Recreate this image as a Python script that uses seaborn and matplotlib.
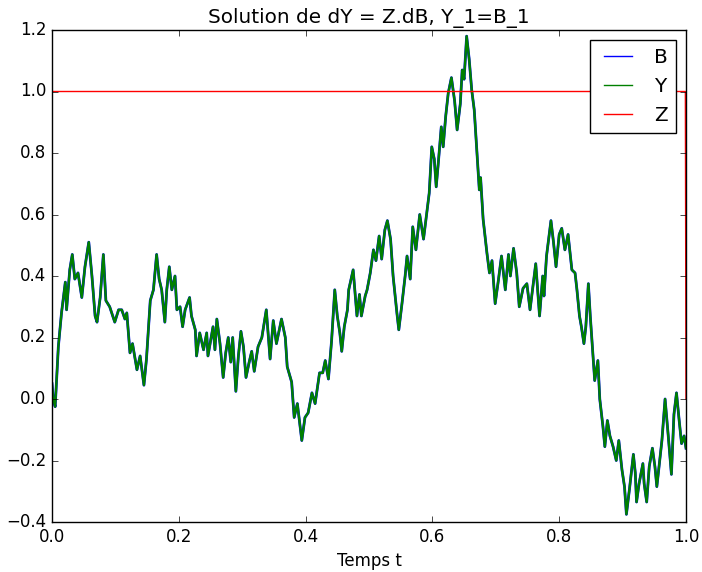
import matplotlib
matplotlib.use("Agg")
import matplotlib.pyplot as plt
import seaborn as sns

# temps t
t_values = [
    0.0, 0.002, 0.005, 0.010, 0.015, 0.021, 0.023, 0.028, 0.032, 0.036,
    0.041, 0.047, 0.052, 0.058, 0.063, 0.068, 0.071, 0.076, 0.081, 0.085,
    0.091, 0.099, 0.105, 0.110, 0.115, 0.118, 0.123, 0.127, 0.134, 0.139,
    0.145, 0.149, 0.155, 0.160, 0.165, 0.169, 0.173, 0.178, 0.181, 0.185,
    0.189, 0.194, 0.197, 0.202, 0.206, 0.210, 0.217, 0.220, 0.226, 0.228,
    0.233, 0.239, 0.244, 0.246, 0.254, 0.257, 0.260, 0.265, 0.270, 0.274,
    0.278, 0.282, 0.285, 0.290, 0.294, 0.298, 0.302, 0.306, 0.311, 0.315,
    0.319, 0.325, 0.331, 0.338, 0.344, 0.349, 0.354, 0.362, 0.368, 0.371,
    0.378, 0.382, 0.387, 0.394, 0.399, 0.404, 0.410, 0.415, 0.422, 0.427,
    0.431, 0.436, 0.441, 0.446, 0.450, 0.454, 0.457, 0.461, 0.466, 0.468,
    0.475, 0.481, 0.485, 0.488, 0.494, 0.497, 0.502, 0.507, 0.511, 0.516,
    0.520, 0.525, 0.529, 0.534, 0.538, 0.544, 0.547, 0.552, 0.557, 0.560,
    0.565, 0.569, 0.574, 0.580, 0.586, 0.591, 0.595, 0.599, 0.603, 0.606,
    0.609, 0.614, 0.617, 0.621, 0.625, 0.630, 0.635, 0.639, 0.644, 0.647,
    0.650, 0.654, 0.658, 0.662, 0.666, 0.670, 0.674, 0.676, 0.680, 0.686,
    0.690, 0.694, 0.699, 0.704, 0.709, 0.715, 0.720, 0.723, 0.728, 0.733,
    0.737, 0.743, 0.749, 0.754, 0.759, 0.763, 0.769, 0.774, 0.776, 0.780,
    0.787, 0.791, 0.795, 0.800, 0.804, 0.809, 0.814, 0.820, 0.825, 0.828,
    0.832, 0.835, 0.839, 0.842, 0.846, 0.849, 0.853, 0.856, 0.861, 0.864,
    0.869, 0.872, 0.876, 0.880, 0.885, 0.890, 0.894, 0.899, 0.903, 0.906,
    0.911, 0.917, 0.920, 0.922, 0.926, 0.932, 0.934, 0.938, 0.942, 0.947,
    0.951, 0.954, 0.958, 0.962, 0.967, 0.972, 0.977, 0.981, 0.985, 0.989,
    0.993, 0.997, 1.0,
]

# mouvement brownien B
b_values = [
    0.05, 0.0, -0.025, 0.17, 0.28, 0.38, 0.29, 0.42, 0.47, 0.39,
    0.41, 0.33, 0.43, 0.51, 0.40, 0.27, 0.25, 0.33, 0.47, 0.32,
    0.30, 0.25, 0.29, 0.29, 0.26, 0.28, 0.15, 0.18, 0.095, 0.14,
    0.045, 0.13, 0.32, 0.355, 0.47, 0.39, 0.355, 0.25, 0.355, 0.43,
    0.355, 0.40, 0.29, 0.30, 0.235, 0.29, 0.33, 0.27, 0.225, 0.14,
    0.215, 0.16, 0.215, 0.14, 0.235, 0.16, 0.26, 0.18, 0.07, 0.15,
    0.20, 0.12, 0.20, 0.025, 0.14, 0.22, 0.17, 0.07, 0.12, 0.155,
    0.09, 0.17, 0.20, 0.29, 0.13, 0.255, 0.18, 0.26, 0.20, 0.105,
    0.055, -0.06, -0.015, -0.135, -0.06, -0.045, 0.02, -0.015, 0.085, 0.085,
    0.125, 0.065, 0.19, 0.355, 0.27, 0.215, 0.155, 0.235, 0.29, 0.355,
    0.42, 0.27, 0.34, 0.27, 0.335, 0.355, 0.41, 0.485, 0.45, 0.53,
    0.455, 0.55, 0.58, 0.52, 0.40, 0.28, 0.225, 0.31, 0.40, 0.465,
    0.39, 0.56, 0.485, 0.60, 0.52, 0.605, 0.67, 0.82, 0.78, 0.69,
    0.76, 0.885, 0.82, 0.92, 0.995, 1.045, 0.97, 0.875, 0.96, 1.07,
    1.04, 1.18, 1.105, 1.005, 0.94, 0.81, 0.68, 0.72, 0.585, 0.475,
    0.41, 0.45, 0.31, 0.385, 0.465, 0.355, 0.47, 0.40, 0.49, 0.41,
    0.30, 0.36, 0.375, 0.29, 0.375, 0.44, 0.27, 0.40, 0.335, 0.465,
    0.58, 0.51, 0.43, 0.535, 0.555, 0.485, 0.535, 0.42, 0.41, 0.355,
    0.27, 0.235, 0.18, 0.235, 0.375, 0.27, 0.15, 0.06, 0.125, 0.0,
    -0.09, -0.155, -0.07, -0.12, -0.155, -0.20, -0.135, -0.23, -0.285, -0.375,
    -0.29, -0.18, -0.24, -0.335, -0.275, -0.21, -0.275, -0.335, -0.22, -0.16,
    -0.22, -0.285, -0.21, -0.135, 0.0, -0.12, -0.245, -0.05, 0.02, -0.065,
    -0.145, -0.12, -0.16,
]

# solution Y (Y_1 = B_1, confondue avec B)
y_values = list(b_values)

# processus Z
z_t = [0.0, 0.999, 1.0]
z_values = [1.0, 1.0, 0.0]


def main():
    plt.style.use("classic")
    fig, ax = plt.subplots(figsize=(7.02, 5.72), dpi=100)
    fig.patch.set_facecolor("white")
    fig.subplots_adjust(left=52 / 702, right=686 / 702,
                        top=1 - 30 / 572, bottom=1 - 522 / 572)

    sns.lineplot(x=t_values, y=b_values, color="b", label="B", ax=ax,
                 sort=False, estimator=None, linewidth=2.0)
    sns.lineplot(x=t_values, y=y_values, color="g", label="Y", ax=ax,
                 sort=False, estimator=None, linewidth=1.7)
    sns.lineplot(x=z_t, y=z_values, color="r", label="Z", ax=ax,
                 sort=False, estimator=None, linewidth=1.0)

    ax.set_xlim(0, 1)
    ax.set_ylim(-0.4, 1.2)
    ax.set_title("Solution de dY = Z.dB, Y_1=B_1")
    ax.set_xlabel("Temps t")
    leg = ax.legend(loc="upper right")
    for line in leg.get_lines():
        line.set_linewidth(1.0)
    plt.savefig("out.png", dpi=100, facecolor="white")
    plt.close()


if __name__ == "__main__":
    main()
